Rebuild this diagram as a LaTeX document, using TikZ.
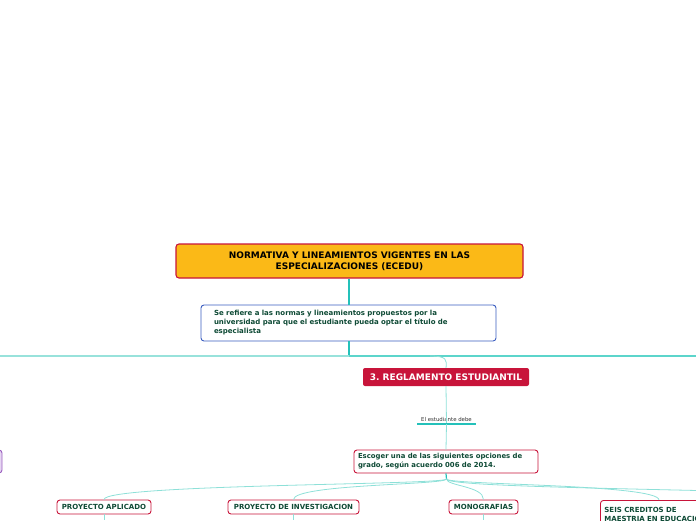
\documentclass[tikz,border=0pt]{standalone}
\usepackage{fontspec}
\setmainfont{DejaVu Sans}
\definecolor{gold}{HTML}{FBB917}
\definecolor{crim}{HTML}{C8143A}
\definecolor{blu}{HTML}{3A5DC0}
\definecolor{txg}{HTML}{0E4A35}
\definecolor{teal1}{HTML}{24C1BA}
\definecolor{teal2}{HTML}{8EE0D8}
\definecolor{hl}{HTML}{98E2DB}
\definecolor{hr}{HTML}{5CD5CB}
\definecolor{lav}{HTML}{E6D6F2}
\definecolor{purp}{HTML}{9B5FC0}
\tikzset{
  box/.style={draw, rounded corners=3pt, line width=1.1pt, font=\bfseries, text=txg, inner sep=0pt},
  thick1/.style={draw=teal1, line width=1.6pt},
  thin1/.style={draw=teal2, line width=0.8pt},
}
\begin{document}
\frenchspacing
\begin{tikzpicture}[x=1pt,y=-1pt]
\useasboundingbox (0,0) rectangle (696,520);
\clip (0,0) rectangle (696,520);
% nodes
\node[box, fill=gold, draw=crim, minimum width=347pt, minimum height=34pt, align=center,
  font=\fontsize{9}{11}\selectfont\bfseries, text=black] (top) at (349.5,261)
  {NORMATIVA Y LINEAMIENTOS VIGENTES EN LAS\\ESPECIALIZACIONES (ECEDU)};
\node[box, fill=white, draw=blu, line width=0.9pt, minimum width=295pt, minimum height=36pt, text width=269pt, align=left,
  font=\fontsize{7}{9}\selectfont\bfseries] (desc) at (348.5,323)
  {Se refiere a las normas y lineamientos propuestos por la\\universidad para que el estudiante pueda optar el título de\\especialista};
\coordinate (hub) at (349,355.5);
\coordinate (leftend) at (0,355.5);
\coordinate (rightend) at (696,355.5);
\node[fill=crim, rounded corners=2pt, minimum width=166pt, minimum height=18pt, inner sep=0pt,
  font=\fontsize{9}{10}\selectfont\bfseries, text=white] (reg) at (446,377) {3. REGLAMENTO ESTUDIANTIL};
\node[inner sep=0pt, font=\fontsize{5.4}{6}\selectfont, text=black!80] (deb) at (446.5,419) {El estudiante debe};
\coordinate (debL) at (417,424);
\coordinate (debC) at (446.5,424);
\coordinate (debR) at (476,424);
\node[box, fill=white, draw=crim, line width=0.9pt, minimum width=184pt, minimum height=23pt, text width=176pt, align=left,
  font=\fontsize{6.9}{9}\selectfont\bfseries] (esc) at (446,461.5)
  {Escoger una de las siguientes opciones de\\grado, según acuerdo 006 de 2014.};
\node[box, fill=white, draw=crim, line width=0.9pt, minimum width=94pt, minimum height=14pt,
  font=\fontsize{7}{8}\selectfont\bfseries] (pa) at (104,507) {PROYECTO APLICADO};
\node[box, fill=white, draw=crim, line width=0.9pt, minimum width=131pt, minimum height=14pt,
  font=\fontsize{7}{8}\selectfont\bfseries] (pi) at (293.5,507) {PROYECTO DE INVESTIGACION};
\node[box, fill=white, draw=crim, line width=0.9pt, minimum width=69pt, minimum height=14pt,
  font=\fontsize{7}{8}\selectfont\bfseries] (mo) at (483.5,507) {MONOGRAFIAS};
\node[box, fill=white, draw=crim, line width=0.9pt, anchor=north west, minimum width=130pt, minimum height=28pt,
  text width=122pt, align=left, inner xsep=4pt, inner ysep=3pt,
  font=\fontsize{7}{8.5}\selectfont\bfseries] (sc) at (600,500) {SEIS CREDITOS DE\\MAESTRIA EN EDUCACION};
\node[box, fill=lav, draw=purp, line width=0.9pt, minimum width=60pt, minimum height=23pt] (lp) at (-28,461.5) {};
\coordinate (escb) at (446.5,479);
\coordinate (offR) at (760,492);
\coordinate (paB) at (104,520);
\coordinate (piB) at (293.5,520);
\coordinate (moB) at (483.5,520);
% connectors
\draw[thick1] (top.south -| hub) -- (desc.north -| hub);
\draw[thick1] (desc.south -| hub) -- (hub);
\draw[draw=hl, line width=2pt] (hub) -- (leftend);
\draw[draw=hr, line width=2pt] (hub) -- (rightend);
\draw[thin1] (430,356) .. controls (447,356) and (447,360) .. (reg.north);
\draw[thin1] (reg.south) -- (debC);
\draw[draw=teal1, line width=1.3pt] (debL) -- (debR);
\draw[thin1] (debC) -- (esc.north);
\draw[draw=teal1, line width=1.2pt] (esc.south) -- (escb);
\draw[thin1] (escb) .. controls (446.5,485) and (104,484) .. (pa.north);
\draw[thin1] (escb) .. controls (446.5,485) and (293.5,484) .. (pi.north);
\draw[thin1] (escb) .. controls (446.5,486) and (483.5,486) .. (mo.north);
\draw[thin1] (escb) .. controls (446.5,485) and (659,484) .. (659,500);
\draw[thin1] (escb) .. controls (446.5,486) and (600,488) .. (offR);
\draw[thin1] (pa.south) -- (paB);
\draw[thin1] (pi.south) -- (piB);
\draw[thin1] (mo.south) -- (moB);
\end{tikzpicture}
\end{document}
